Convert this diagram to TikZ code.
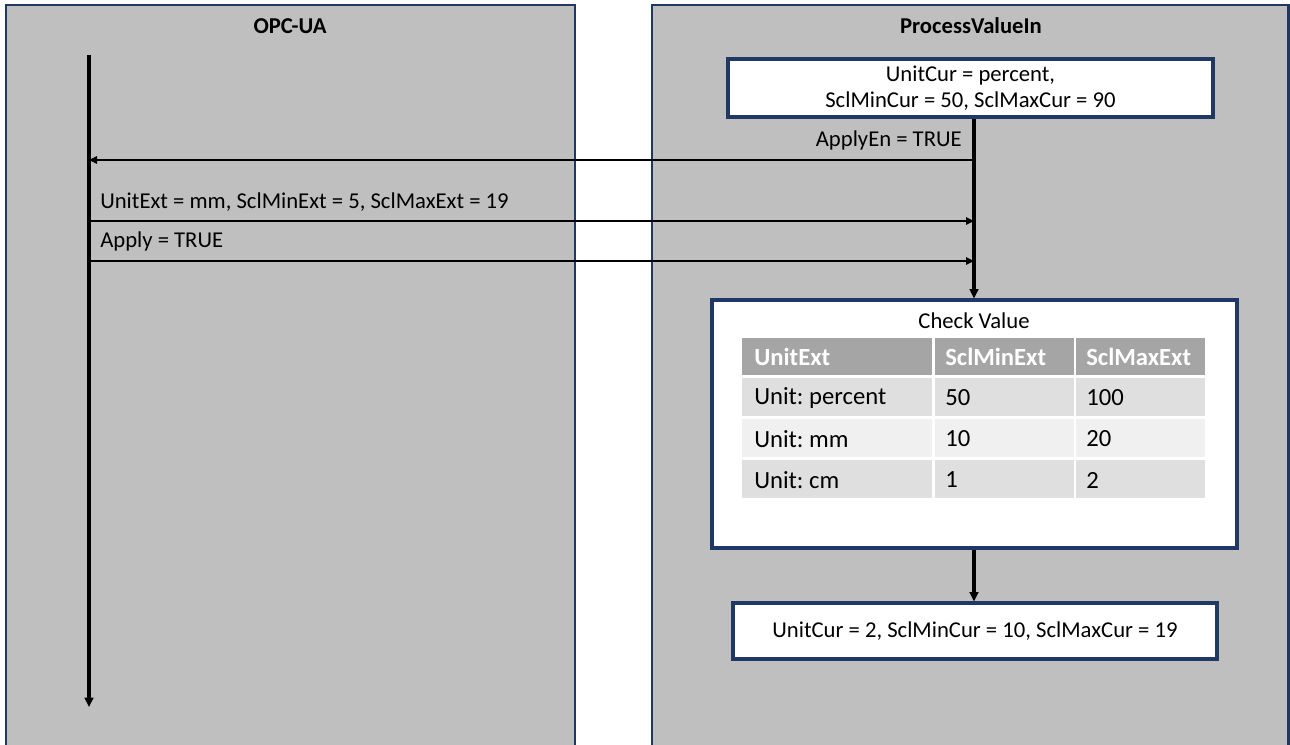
\documentclass[tikz,border=0pt]{standalone}
\usepackage{fontspec}
\setmainfont{Carlito}
\usetikzlibrary{arrows.meta}
\definecolor{navy}{HTML}{1F3864}
\definecolor{panelgray}{HTML}{BFBFBF}
\definecolor{hdrgray}{HTML}{A5A5A5}
\definecolor{rowA}{HTML}{DFDFDF}
\definecolor{rowB}{HTML}{F0F0F0}
\frenchspacing
\begin{document}
\begin{tikzpicture}[x=0.75pt,y=-0.75pt,
  panel/.style={draw=navy,line width=1.6pt,fill=panelgray},
  ptitle/.style={font=\fontsize{17}{19}\selectfont\bfseries,inner sep=0pt},
  lbl/.style={font=\fontsize{17}{19}\selectfont,inner sep=0pt},
  wbox/.style={draw=navy,line width=2.3pt,fill=white,inner sep=0pt,font=\fontsize{17}{19}\selectfont,align=center},
  msg/.style={line width=1.2pt,-{Triangle[length=6pt,width=5.5pt]}},
  lifearrow/.style={line width=2.4pt,-{Triangle[length=7pt,width=6.5pt]}},
  cell/.style={inner sep=0pt,outer sep=0pt,minimum height=28pt,anchor=north west},
  ctext/.style={font=\fontsize{18.5}{22}\selectfont,inner sep=0pt,anchor=west},
  htext/.style={font=\fontsize{18.5}{22}\selectfont\bfseries,text=white,inner sep=0pt,anchor=west}
]
\useasboundingbox (0,0) rectangle (1290,745);
\clip (0,0) rectangle (1290,745);
\fill[white] (0,0) rectangle (1290,745);
% panels
\draw[panel] (6,5) rectangle (575,770);
\draw[panel] (652,5) rectangle (1288.5,770);
\node[ptitle] (t1) at (290,26) {OPC-UA};
\node[ptitle] (t2) at (971,26) {ProcessValueIn};
% left lifeline
\coordinate (L0) at (89,55);
\coordinate (L1) at (89,707);
\draw[lifearrow] (L0) -- (L1);
% box 1
\node[wbox,minimum width=363.75pt,minimum height=43.5pt] (b1) at (970.5,88) {UnitCur = percent,\\ SclMinCur = 50, SclMaxCur = 90};
% check value box
\node[wbox,minimum width=393.75pt,minimum height=186pt] (cv) at (974.5,424) {};
\node[lbl] (cvt) at (974,321) {Check Value};
% final box
\node[wbox,minimum width=363pt,minimum height=42pt] (b3) at (975,631) {UnitCur = 2, SclMinCur = 10, SclMaxCur = 19};
% right lifeline
\coordinate (R) at (974,0);
\draw[lifearrow] (b1.south -| R) -- (cv.north -| R);
\draw[lifearrow] (cv.south -| R) -- (b3.north -| R);
% messages
\coordinate (m1r) at (974,160);
\coordinate (m1l) at (89,160);
\coordinate (m2l) at (89,221);
\coordinate (m2r) at (974,221);
\coordinate (m3l) at (89,261);
\coordinate (m3r) at (974,261);
\draw[msg] (m1r) -- (m1l);
\draw[msg] (m2l) -- (m2r);
\draw[msg] (m3l) -- (m3r);
\node[lbl,anchor=east] (l1) at (962,140) {ApplyEn = TRUE};
\node[lbl,anchor=west] (l2) at (100,202) {UnitExt = mm, SclMinExt = 5, SclMaxExt = 19};
\node[lbl,anchor=west] (l3) at (100,241) {Apply = TRUE};
% table
\node[cell,fill=hdrgray,minimum width=142.5pt] (h1) at (742,338) {};
\node[cell,fill=hdrgray,minimum width=104.25pt] (h2) at (934.5,338) {};
\node[cell,fill=hdrgray,minimum width=96.75pt] (h3) at (1076,338) {};
\node[cell,fill=rowA,minimum width=142.5pt] (r1a) at (742,378.5) {};
\node[cell,fill=rowA,minimum width=104.25pt] (r1b) at (934.5,378.5) {};
\node[cell,fill=rowA,minimum width=96.75pt] (r1c) at (1076,378.5) {};
\node[cell,fill=rowB,minimum width=142.5pt] (r2a) at (742,419.5) {};
\node[cell,fill=rowB,minimum width=104.25pt] (r2b) at (934.5,419.5) {};
\node[cell,fill=rowB,minimum width=96.75pt] (r2c) at (1076,419.5) {};
\node[cell,fill=rowA,minimum width=142.5pt] (r3a) at (742,460.5) {};
\node[cell,fill=rowA,minimum width=104.25pt] (r3b) at (934.5,460.5) {};
\node[cell,fill=rowA,minimum width=96.75pt] (r3c) at (1076,460.5) {};
\node[htext] (th1) at (754,357) {UnitExt};
\node[htext] (th2) at (945,357) {SclMinExt};
\node[htext] (th3) at (1086,357) {SclMaxExt};
\node[ctext] (c11) at (754,398) {Unit: percent};
\node[ctext] (c12) at (945,398) {50};
\node[ctext] (c13) at (1086,398) {100};
\node[ctext] (c21) at (754,439) {Unit: mm};
\node[ctext] (c22) at (945,439) {10};
\node[ctext] (c23) at (1086,439) {20};
\node[ctext] (c31) at (754,480) {Unit: cm};
\node[ctext] (c32) at (945,480) {1};
\node[ctext] (c33) at (1086,480) {2};
\end{tikzpicture}
\end{document}
